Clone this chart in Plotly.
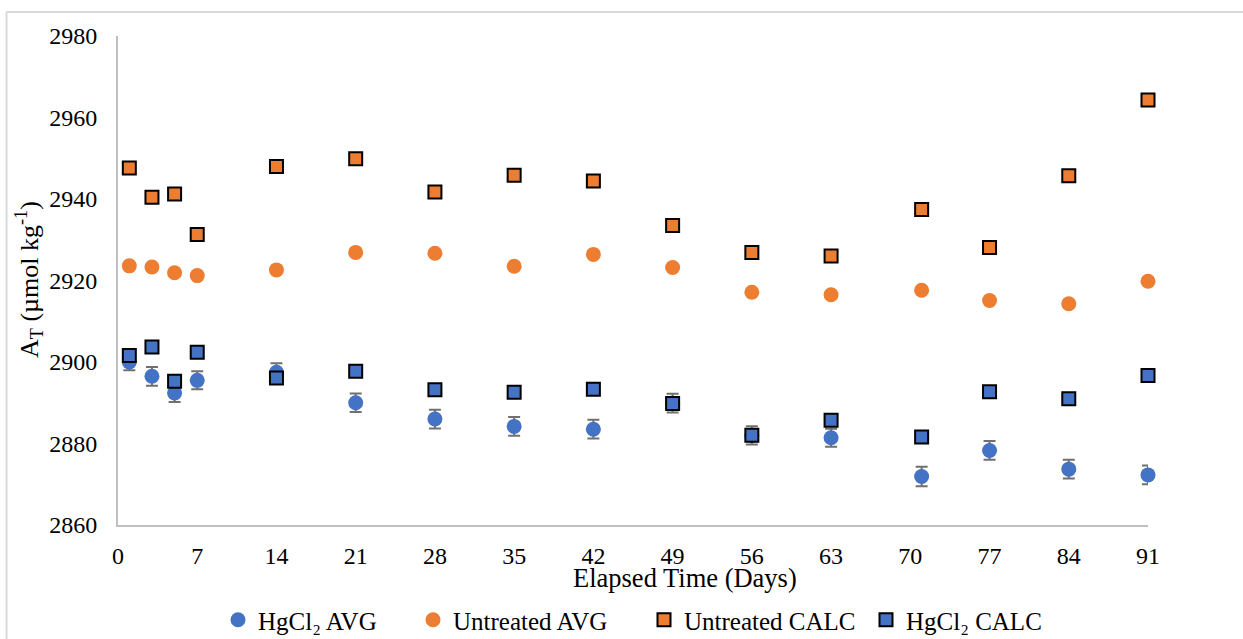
import plotly.graph_objects as go

days = [1, 3, 5, 7, 14, 21, 28, 35, 42, 49, 56, 63, 71, 77, 84, 91]

hgcl2_avg = [2900.0, 2896.5, 2892.4, 2895.5, 2897.5, 2890.0, 2886.0, 2884.2,
             2883.5, 2889.9, 2882.0, 2881.4, 2871.9, 2878.3, 2873.7, 2872.3]
hgcl2_err = [2.0, 2.3, 2.2, 2.2, 2.2, 2.3, 2.3, 2.3,
             2.3, 2.3, 2.25, 2.2, 2.4, 2.3, 2.3, 2.3]
untreated_avg = [2923.6, 2923.3, 2921.9, 2921.2, 2922.6, 2926.9, 2926.7, 2923.5,
                 2926.4, 2923.2, 2917.1, 2916.5, 2917.6, 2915.1, 2914.3, 2919.8]
untreated_calc = [2947.6, 2940.4, 2941.2, 2931.3, 2948.0, 2949.9, 2941.7, 2945.8,
                  2944.4, 2933.5, 2926.9, 2926.0, 2937.4, 2928.1, 2945.7, 2964.3]
hgcl2_calc = [2901.6, 2903.7, 2895.3, 2902.4, 2896.1, 2897.7, 2893.2, 2892.6,
              2893.3, 2889.8, 2882.0, 2885.7, 2881.6, 2892.7, 2891.0, 2896.7]

x_ticks = [0, 7, 14, 21, 28, 35, 42, 49, 56, 63, 70, 77, 84, 91]
y_ticks = [2860, 2880, 2900, 2920, 2940, 2960, 2980]

series_names = ["HgCl₂ AVG", "Untreated AVG", "Untreated CALC", "HgCl₂ CALC"]

BLUE = "#4472C4"
ORANGE = "#ED7D31"
FONT = "Liberation Serif"

fig = go.Figure()

fig.add_trace(go.Scatter(
    x=days, y=hgcl2_avg, mode="markers", name=series_names[0], legend="legend",
    marker=dict(symbol="circle", size=15, color=BLUE),
    error_y=dict(type="data", array=hgcl2_err, visible=True,
                 color="#707070", thickness=2, width=6),
    cliponaxis=False,
))
fig.add_trace(go.Scatter(
    x=days, y=untreated_avg, mode="markers", name=series_names[1], legend="legend2",
    marker=dict(symbol="circle", size=15, color=ORANGE),
    cliponaxis=False,
))
fig.add_trace(go.Scatter(
    x=days, y=untreated_calc, mode="markers", name=series_names[2], legend="legend3",
    marker=dict(symbol="square", size=13, color=ORANGE,
                line=dict(color="black", width=2)),
    cliponaxis=False,
))
fig.add_trace(go.Scatter(
    x=days, y=hgcl2_calc, mode="markers", name=series_names[3], legend="legend4",
    marker=dict(symbol="square", size=13, color=BLUE,
                line=dict(color="black", width=2)),
    cliponaxis=False,
))

L, R, T, B = 118, 95, 36, 114
W, H = 1243, 639
pw = W - L - R
ph = H - T - B

def px_x(px):
    return (px - L) / pw

def px_y(py):
    return (H - B - py) / ph

def legend_at(px_left):
    return dict(orientation="h", x=px_x(px_left), xanchor="left",
                y=px_y(620), yanchor="middle",
                font=dict(family=FONT, size=25, color="black"),
                bgcolor="rgba(0,0,0,0)")

fig.update_layout(
    width=W, height=H,
    margin=dict(l=L, r=R, t=T, b=B, autoexpand=False),
    paper_bgcolor="white", plot_bgcolor="white",
    font=dict(family=FONT, size=24, color="black"),
    showlegend=True,
    legend=legend_at(218),
    legend2=legend_at(413),
    legend3=legend_at(644),
    legend4=legend_at(866),
    xaxis=dict(range=[0, 91], tickvals=x_ticks, ticktext=[str(v) for v in x_ticks],
               showgrid=False, zeroline=False, showline=True,
               linecolor="#bfbfbf", linewidth=2, ticks="",
               ticklabelstandoff=8,
               tickfont=dict(family=FONT, size=24, color="black")),
    yaxis=dict(range=[2860, 2980], tickvals=y_ticks,
               showgrid=False, zeroline=False, showline=True,
               linecolor="#bfbfbf", linewidth=2, ticks="",
               ticklabelstandoff=14,
               tickfont=dict(family=FONT, size=24, color="black")),
    annotations=[
        dict(text="Elapsed Time (Days)", xref="paper", yref="paper",
             x=px_x(685), y=px_y(578), xanchor="center", yanchor="middle",
             showarrow=False, font=dict(family=FONT, size=26.5, color="black")),
        dict(text="A<sub>T</sub> (µmol kg<sup>-1</sup>)", xref="paper", yref="paper",
             x=px_x(29), y=px_y(280), xanchor="center", yanchor="middle",
             textangle=-90, showarrow=False,
             font=dict(family=FONT, size=26, color="black")),
    ],
    shapes=[
        dict(type="line", xref="paper", yref="paper",
             x0=px_x(6.5), x1=px_x(1250), y0=px_y(12), y1=px_y(12),
             line=dict(color="#d9d9d9", width=2)),
        dict(type="line", xref="paper", yref="paper",
             x0=px_x(6.5), x1=px_x(6.5), y0=px_y(12), y1=px_y(645),
             line=dict(color="#d9d9d9", width=2)),
    ],
)

fig.write_html("out.html")
